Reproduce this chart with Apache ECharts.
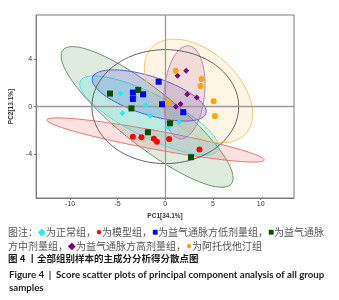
<!DOCTYPE html>
<html><head><meta charset="utf-8">
<script src="https://cdn.jsdelivr.net/npm/echarts@6/dist/echarts.min.js"></script>
<style>html,body{margin:0;padding:0;background:#fff}#c{width:339px;height:300px}</style>
</head><body><div id="c"></div>
<script>
// ---- data (PC1, PC2 scores) ----
const normalPts   = [[-4.7,1.1],[-2.1,0.1],[-4.5,-0.56],[-1.6,-0.75],[0.3,-1.77],[1.45,-1.3]];
const modelPts    = [[-3.4,-2.53],[-2.5,-2.58],[-1.2,-2.7],[-0.88,-2.97],[0.4,-2.72],[3.58,-3.62]];
const lowDosePts  = [[-0.7,2.1],[-3.4,1.18],[-3.4,0.65],[-2.33,1.04],[-0.34,0.2],[1.88,-0.47]];
const midDosePts  = [[-5.8,1.1],[-2.84,1.41],[-3.55,-0.15],[-1.82,-2.16],[0.5,-1.4],[2.7,-4.26]];
const highDosePts = [[2.19,3.03],[1.28,2.6],[2.29,1.04],[3.3,0.76],[1.6,0.23],[1.1,-0.02]];
const statinPts   = [[1.1,3.03],[3.8,2.33],[3.7,1.74],[5.07,0.45],[5.2,-0.78],[0.27,0.33]];
// confidence ellipses: [centerX, centerY, axis1X, axis1Y, axis2X, axis2Y] (PC units)
const ellipseMid    = [-1.91,-0.87, 9.02,-5.14, 0,-2.95];
const ellipseModel  = [-1.03,-2.81, 11.4,-1.68, 0,-0.8];
const ellipseNormal = [-1.69,-0.74, 7.29,-2.65, 0,-2.02];
const ellipseLow    = [-1.69,0.94, 5.98,-1.35, 0,-1.68];
const ellipseStatin = [3.48,1.32, 5.05,-3.52, -2.6,-2.58];
const ellipseHigh   = [2.0,1.2, 0.46,3.92, 2.12,-0.17];
const ellipseAll    = [0,0, 7.7,0, 0,4.8];
const xTicks = [-10,-5,0,5,10];
const yTicks = [-4,0,4];
const xName = 'PC1[34.1%]';
const yName = 'PC2[13.1%]';

const ellipses = [ellipseMid, ellipseModel, ellipseNormal, ellipseLow, ellipseStatin, ellipseHigh, ellipseAll];
const ellipseStyles = [
  {fill:'rgba(0,90,0,0.12)', stroke:'#6a966a', w:1},
  {fill:'rgba(255,40,40,0.14)', stroke:'#ee7070', w:1},
  {fill:'rgba(0,225,225,0.16)', stroke:'#45e3e6', w:1},
  {fill:'rgba(60,60,225,0.19)', stroke:'#5a5ad8', w:1},
  {fill:'rgba(255,170,30,0.12)', stroke:'#f6c66e', w:1},
  {fill:'rgba(140,20,140,0.11)', stroke:'#b882b8', w:1},
  {fill:'rgba(0,0,0,0)', stroke:'#555', w:0.9}
];

const chart = echarts.init(document.getElementById('c'), null, {renderer:'canvas'});
const scatter = (data, symbol, size, color) => ({
  type:'scatter', data, symbol, symbolSize:size, z:5,
  itemStyle:{color, opacity:1}, silent:true, animation:false
});
chart.setOption({
  animation:false,
  grid:{left:27, right:45, top:15, bottom:102, show:true, borderColor:'#7a7a7a', borderWidth:1},
  xAxis:{type:'value', min:-13.55, max:13.5, splitLine:{show:false},
    axisLine:{onZero:false, lineStyle:{color:'#7a7a7a'}},
    axisTick:{show:true, customValues:xTicks, length:2, lineStyle:{color:'#7a7a7a'}},
    axisLabel:{customValues:xTicks, fontSize:7, color:'#333', margin:3, fontFamily:'Liberation Sans'},
    name:xName, nameLocation:'middle', nameGap:12,
    nameTextStyle:{fontSize:6.5, color:'#333', fontWeight:'bold', fontFamily:'Liberation Sans'}},
  yAxis:{type:'value', min:-7.7, max:7.72, splitLine:{show:false},
    axisLine:{onZero:false, lineStyle:{color:'#7a7a7a'}},
    axisTick:{show:true, customValues:yTicks, length:2, lineStyle:{color:'#7a7a7a'}},
    axisLabel:{customValues:yTicks, fontSize:7, color:'#333', margin:4, fontFamily:'Liberation Sans'},
    name:yName, nameLocation:'middle', nameGap:11,
    nameTextStyle:{fontSize:6.5, color:'#333', fontWeight:'bold', fontFamily:'Liberation Sans'}},
  series:[
    {type:'custom', data:ellipses.map(e=>e.slice()), encode:{x:0,y:1}, clip:true, z:2, silent:true,
     renderItem:(params, api)=>{
       const v=[0,1,2,3,4,5].map(i=>api.value(i));
       const pts=[];
       for(let k=0;k<96;k++){
         const t=k/96*Math.PI*2, c=Math.cos(t), s=Math.sin(t);
         pts.push(api.coord([v[0]+v[2]*c+v[4]*s, v[1]+v[3]*c+v[5]*s]));
       }
       const st=ellipseStyles[params.dataIndex];
       return {type:'polygon', shape:{points:pts}, style:{fill:st.fill, stroke:st.stroke, lineWidth:st.w}};
     }},
    {type:'scatter', data:[], z:3, silent:true,
     markLine:{silent:true, symbol:['none','none'], label:{show:false}, animation:false,
       lineStyle:{color:'#9a9a9a', width:1.3, type:'solid'},
       data:[{xAxis:0},{yAxis:0}]}},
    scatter(normalPts,'diamond',6,'#22eef2'),
    scatter(modelPts,'circle',6,'#ff0000'),
    scatter(lowDosePts,'rect',6,'#0000ff'),
    scatter(midDosePts,'rect',6,'#005000'),
    scatter(highDosePts,'diamond',6,'#800080'),
    scatter(statinPts,'circle',6,'#ffa500')
  ],
  graphic:[
    {type:'text', x:8, y:232, style:{text:'图注：{c|◆}为正常组，{r|●}为模型组，{b|■}为益气通脉方低剂量组，{g|■}为益气通脉',
      fontSize:10, fontFamily:'Noto Sans CJK SC', fill:'#555', verticalAlign:'middle',
      rich:{c:{fill:'#22eef2',fontSize:10}, r:{fill:'#ff0000',fontSize:10}, b:{fill:'#0000ff',fontSize:10}, g:{fill:'#005000',fontSize:10}}}},
    {type:'text', x:8, y:246.5, style:{text:'方中剂量组，{p|◆}为益气通脉方高剂量组，{o|●}为阿托伐他汀组',
      fontSize:10, fontFamily:'Noto Sans CJK SC', fill:'#555', verticalAlign:'middle',
      rich:{p:{fill:'#800080',fontSize:10}, o:{fill:'#ffa500',fontSize:10}}}},
    {type:'text', x:8, y:258.7, style:{text:'图 4 丨全部组别样本的主成分分析得分散点图',
      fontSize:9.5, fontFamily:'Noto Sans CJK SC', fontWeight:'bold', fill:'#222', verticalAlign:'middle'}},
    {type:'text', x:9, y:274.5, style:{text:'Figure 4  |  Score scatter plots of principal component analysis of all group',
      fontSize:9.7, fontFamily:'Lato', fontWeight:'bold', fill:'#222', verticalAlign:'middle'}},
    {type:'text', x:9, y:287.5, style:{text:'samples',
      fontSize:9.7, fontFamily:'Lato', fontWeight:'bold', fill:'#222', verticalAlign:'middle'}}
  ]
});
</script></body></html>
